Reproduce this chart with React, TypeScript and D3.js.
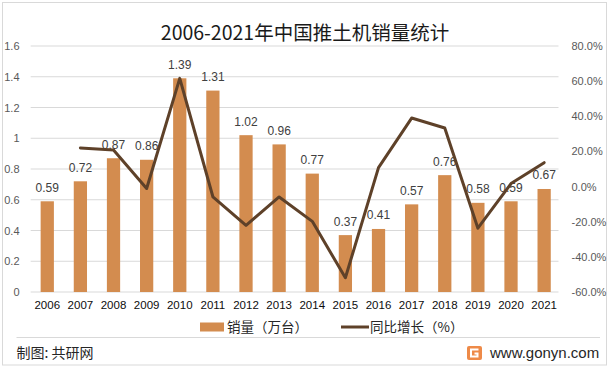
import * as d3 from "d3";
import React, { useRef, useEffect } from "react";

const years = ["2006", "2007", "2008", "2009", "2010", "2011", "2012", "2013", "2014", "2015", "2016", "2017", "2018", "2019", "2020", "2021"];
const sales = [0.59, 0.72, 0.87, 0.86, 1.39, 1.31, 1.02, 0.96, 0.77, 0.37, 0.41, 0.57, 0.76, 0.58, 0.59, 0.67];
// 2006 has no growth point
const growth = [null, 22.0, 20.8, -1.1, 61.6, -5.8, -22.1, -5.9, -19.8, -51.9, 10.8, 39.0, 33.3, -23.7, 1.7, 13.6];
const leftTicks = [0, 0.2, 0.4, 0.6, 0.8, 1, 1.2, 1.4, 1.6];
const rightTicks = [-60, -40, -20, 0, 20, 40, 60, 80];

const width = 611;
const height = 371;
const barColor = "#D38C4F";
const lineColor = "#5E4129";
const numFont = "'Liberation Sans', Arial, sans-serif";
const cjkFont = "'Noto Sans CJK SC', sans-serif";

function ComboChart() {
  const ref = useRef(null);

  useEffect(() => {
    draw();
  }, []); // eslint-disable-line react-hooks/exhaustive-deps

  const draw = () => {
    const svg = d3.select(ref.current);
    svg.selectAll("*").remove();

    const plot = { left: 30.7, right: 560.7, top: 46, bottom: 292 };

    const xScale = d3
      .scaleBand()
      .domain(years)
      .range([plot.left, plot.right])
      .paddingInner(0.6)
      .paddingOuter(0.3);

    const yScale = d3.scaleLinear().domain([0, 1.6]).range([plot.bottom, plot.top]);
    const y2Scale = d3.scaleLinear().domain([-60, 80]).range([plot.bottom, plot.top]);

    svg
      .append("rect")
      .attr("x", 2.5)
      .attr("y", 2.5)
      .attr("width", 604)
      .attr("height", 362.5)
      .attr("fill", "#fff")
      .attr("stroke", "#d9d9d9");

    svg
      .append("text")
      .attr("x", 305)
      .attr("y", 40)
      .attr("text-anchor", "middle")
      .style("font-family", cjkFont)
      .style("font-size", "19.5px")
      .style("font-weight", 400)
      .attr("fill", "#1a1a1a")
      .text("2006-2021年中国推土机销量统计");

    // gridlines
    svg
      .selectAll(".grid")
      .data(leftTicks)
      .join("line")
      .classed("grid", true)
      .attr("x1", plot.left)
      .attr("x2", 558.5)
      .attr("y1", (d) => yScale(d))
      .attr("y2", (d) => yScale(d))
      .attr("stroke", "#d9d9d9")
      .attr("stroke-width", 1);

    const yAxis = d3
      .axisLeft(yScale)
      .tickValues(leftTicks)
      .tickSize(0)
      .tickPadding(0)
      .tickFormat((d) => String(+(+d).toFixed(1)));

    svg
      .append("g")
      .attr("transform", "translate(19.5,0)")
      .call(yAxis)
      .call((g) => g.select(".domain").remove())
      .selectAll("text")
      .attr("fill", "#595959")
      .style("font-family", numFont)
      .style("font-size", "11px");

    const y2Axis = d3
      .axisRight(y2Scale)
      .tickValues(rightTicks)
      .tickSize(0)
      .tickPadding(0)
      .tickFormat((d) => (+d).toFixed(1) + "%");

    svg
      .append("g")
      .attr("transform", "translate(571.5,0)")
      .call(y2Axis)
      .call((g) => g.select(".domain").remove())
      .selectAll("text")
      .attr("fill", "#595959")
      .style("font-family", numFont)
      .style("font-size", "11px");

    const xAxis = d3.axisBottom(xScale).tickSize(0).tickPadding(0);

    svg
      .append("g")
      .attr("transform", `translate(0,${plot.bottom + 9})`)
      .call(xAxis)
      .call((g) => g.select(".domain").remove())
      .selectAll("text")
      .attr("fill", "#0d0d0d")
      .style("font-family", numFont)
      .style("font-size", "11.5px");

    // bars
    svg
      .selectAll(".bar")
      .data(sales)
      .join("rect")
      .classed("bar", true)
      .attr("x", (d, i) => xScale(years[i]))
      .attr("width", xScale.bandwidth())
      .attr("y", (d) => yScale(d))
      .attr("height", (d) => yScale(0) - yScale(d))
      .attr("fill", barColor);

    svg
      .selectAll(".bar-label")
      .data(sales)
      .join("text")
      .classed("bar-label", true)
      .attr("x", (d, i) => xScale(years[i]) + xScale.bandwidth() / 2)
      .attr("y", (d) => yScale(d) - 9.5)
      .attr("text-anchor", "middle")
      .attr("fill", "#404040")
      .style("font-family", numFont)
      .style("font-size", "12px")
      .text((d) => d.toFixed(2));

    // growth line
    const line = d3
      .line()
      .defined((d) => d != null)
      .x((d, i) => xScale(years[i]) + xScale.bandwidth() / 2)
      .y((d) => y2Scale(d));

    svg
      .append("path")
      .datum(growth)
      .attr("d", line)
      .attr("fill", "none")
      .attr("stroke", lineColor)
      .attr("stroke-width", 3)
      .attr("stroke-linejoin", "round")
      .attr("stroke-linecap", "round");

    // legend
    const legend = svg.append("g").attr("transform", "translate(0,327)");
    legend
      .append("rect")
      .attr("x", 200)
      .attr("y", -4.5)
      .attr("width", 24)
      .attr("height", 9)
      .attr("fill", barColor);
    legend
      .append("text")
      .attr("x", 227)
      .attr("y", 5)
      .style("font-family", cjkFont)
      .style("font-size", "13.5px")
      .attr("fill", "#262626")
      .text("销量（万台）");
    legend
      .append("line")
      .attr("x1", 341)
      .attr("x2", 369)
      .attr("y1", 0)
      .attr("y2", 0)
      .attr("stroke", lineColor)
      .attr("stroke-width", 3);
    legend
      .append("text")
      .attr("x", 370)
      .attr("y", 5)
      .style("font-family", cjkFont)
      .style("font-size", "13.5px")
      .attr("fill", "#262626")
      .text("同比增长（%）");

    // footer
    svg
      .append("line")
      .attr("x1", 16.5)
      .attr("x2", 600)
      .attr("y1", 337.5)
      .attr("y2", 337.5)
      .attr("stroke", "#d9d9d9");

    svg
      .append("text")
      .attr("x", 16.5)
      .attr("y", 358)
      .style("font-family", cjkFont)
      .style("font-size", "14px")
      .attr("fill", "#262626")
      .text("制图: 共研网");

    const logo = svg.append("g").attr("transform", "translate(467,346)");
    logo.append("rect").attr("width", 15).attr("height", 14).attr("rx", 2).attr("fill", "#EE8A48");
    logo
      .append("path")
      .attr("d", "M11.5 3.5 H4 V10.5 H10.5 V7.5 H7.5")
      .attr("fill", "none")
      .attr("stroke", "#fff")
      .attr("stroke-width", 2);

    svg
      .append("text")
      .attr("x", 490)
      .attr("y", 358)
      .style("font-family", numFont)
      .style("font-size", "15px")
      .attr("fill", "#262626")
      .text("www.gonyn.com");
  };

  return (
    <div style={{ position: "absolute", left: 0, top: 0 }}>
      <svg ref={ref} width={width} height={height}></svg>
    </div>
  );
}

export default function App() {
  return <ComboChart />;
}
